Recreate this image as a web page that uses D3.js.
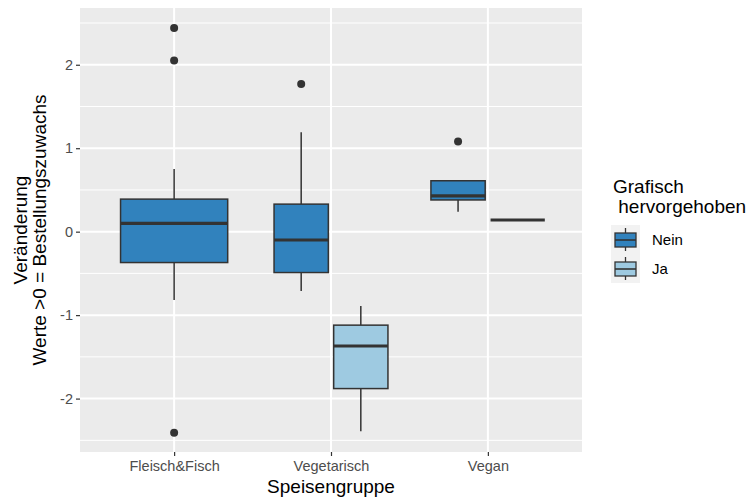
<!DOCTYPE html>
<html>
<head>
<meta charset="utf-8">
<script src="https://cdn.jsdelivr.net/npm/d3@7"></script>
<style>
  body { margin: 0; background: #fff; }
  text { font-family: "Liberation Sans", Arial, sans-serif; }
</style>
</head>
<body>
<svg id="chart" width="749" height="500"></svg>
<script>
// categories and groups
const categories = ['Fleisch&Fisch', 'Vegetarisch', 'Vegan'];
const groups = ['Nein', 'Ja'];
const groupColors = ['#3182bd', '#9ecae1'];

// box stats, one entry per box
const boxCat = ['Fleisch&Fisch', 'Vegetarisch', 'Vegetarisch', 'Vegan', 'Vegan'];
const boxGroup = ['Nein', 'Nein', 'Ja', 'Nein', 'Ja'];
const whiskerLow = [-0.82, -0.71, -2.39, 0.24, 0.14];
const q1 = [-0.37, -0.49, -1.88, 0.38, 0.14];
const median = [0.10, -0.10, -1.37, 0.43, 0.14];
const q3 = [0.39, 0.33, -1.12, 0.61, 0.14];
const whiskerHigh = [0.75, 1.19, -0.89, 0.61, 0.14];

// outliers
const outCat = ['Fleisch&Fisch', 'Fleisch&Fisch', 'Fleisch&Fisch', 'Vegetarisch', 'Vegan'];
const outGroup = ['Nein', 'Nein', 'Nein', 'Nein', 'Nein'];
const outValue = [2.44, 2.05, -2.41, 1.77, 1.08];

const yTicks = [-2, -1, 0, 1, 2];
const yMinor = [-2.5, -1.5, -0.5, 0.5, 1.5, 2.5];

const panel = { left: 80, right: 582, top: 8, bottom: 452 };
const svg = d3.select('#chart');
const font = '"Liberation Sans", Arial, sans-serif';

const x = d3.scalePoint().domain(categories)
  .range([panel.left, panel.right]).padding(0.6);
const y = d3.scaleLinear().domain([-2.64, 2.68])
  .range([panel.bottom, panel.top]);

const step = x.step();
const fullWidth = step * 0.683;
// dodge inside a category
const dodge = d3.scaleBand().domain(groups)
  .range([-step * 0.363, step * 0.363]).paddingInner(0.09);

const color = d3.scaleOrdinal().domain(groups).range(groupColors);

// how many groups per category -> single box is full width
const nPerCat = d3.rollup(boxCat, v => v.length, d => d);

const boxes = boxCat.map((c, i) => ({
  cat: c, group: boxGroup[i], lo: whiskerLow[i], q1: q1[i],
  med: median[i], q3: q3[i], hi: whiskerHigh[i]
}));

function boxPos(cat, group) {
  if (nPerCat.get(cat) === 1) {
    return { x0: x(cat) - fullWidth / 2, w: fullWidth };
  }
  return { x0: x(cat) + dodge(group), w: dodge.bandwidth() };
}

// panel
svg.append('rect')
  .attr('x', panel.left).attr('y', panel.top)
  .attr('width', panel.right - panel.left)
  .attr('height', panel.bottom - panel.top)
  .attr('fill', '#ebebeb');

const grid = svg.append('g');
grid.selectAll('.minor').data(yMinor).join('line')
  .attr('x1', panel.left).attr('x2', panel.right)
  .attr('y1', d => y(d)).attr('y2', d => y(d))
  .attr('stroke', '#fff').attr('stroke-width', 1);
grid.selectAll('.major').data(yTicks).join('line')
  .attr('x1', panel.left).attr('x2', panel.right)
  .attr('y1', d => y(d)).attr('y2', d => y(d))
  .attr('stroke', '#fff').attr('stroke-width', 2);
grid.selectAll('.vmajor').data(categories).join('line')
  .attr('x1', d => x(d)).attr('x2', d => x(d))
  .attr('y1', panel.top).attr('y2', panel.bottom)
  .attr('stroke', '#fff').attr('stroke-width', 2);

// boxes
const outline = '#333333';
const bg = svg.append('g');
boxes.forEach(b => {
  const p = boxPos(b.cat, b.group);
  const cx = p.x0 + p.w / 2;
  bg.append('line')
    .attr('x1', cx).attr('x2', cx)
    .attr('y1', y(b.hi)).attr('y2', y(b.q3))
    .attr('stroke', outline).attr('stroke-width', 1.5);
  bg.append('line')
    .attr('x1', cx).attr('x2', cx)
    .attr('y1', y(b.q1)).attr('y2', y(b.lo))
    .attr('stroke', outline).attr('stroke-width', 1.5);
  bg.append('rect')
    .attr('x', p.x0).attr('y', y(b.q3))
    .attr('width', p.w).attr('height', Math.max(0, y(b.q1) - y(b.q3)))
    .attr('fill', color(b.group))
    .attr('stroke', outline).attr('stroke-width', 1.5);
  bg.append('line')
    .attr('x1', p.x0).attr('x2', p.x0 + p.w)
    .attr('y1', y(b.med)).attr('y2', y(b.med))
    .attr('stroke', outline).attr('stroke-width', 3.2);
});

// outliers
const outliers = outCat.map((c, i) => ({ cat: c, group: outGroup[i], v: outValue[i] }));
bg.selectAll('circle').data(outliers).join('circle')
  .attr('cx', d => { const p = boxPos(d.cat, d.group); return p.x0 + p.w / 2; })
  .attr('cy', d => y(d.v))
  .attr('r', 4)
  .attr('fill', '#333333');

// axes
const yAxis = svg.append('g')
  .attr('transform', `translate(${panel.left},0)`)
  .call(d3.axisLeft(y).tickValues(yTicks).tickSize(4).tickPadding(3)
    .tickFormat(d => String(d)));
yAxis.select('.domain').remove();
yAxis.selectAll('line').attr('stroke', '#333').attr('stroke-width', 1.2);
yAxis.selectAll('text').attr('fill', '#4d4d4d').attr('font-size', 14.5)
  .style('font-family', font);

const xAxis = svg.append('g')
  .attr('transform', `translate(0,${panel.bottom})`)
  .call(d3.axisBottom(x).tickSize(4).tickPadding(5));
xAxis.select('.domain').remove();
xAxis.selectAll('line').attr('stroke', '#333').attr('stroke-width', 1.2);
xAxis.selectAll('text').attr('fill', '#4d4d4d').attr('font-size', 14.5)
  .style('font-family', font);

// titles
svg.append('text')
  .attr('x', (panel.left + panel.right) / 2).attr('y', 493)
  .attr('text-anchor', 'middle').attr('font-size', 19).attr('fill', '#000')
  .text('Speisengruppe');

const yt = svg.append('text')
  .attr('transform', `translate(0,${(panel.top + panel.bottom) / 2}) rotate(-90)`)
  .attr('text-anchor', 'middle').attr('font-size', 19).attr('fill', '#000');
yt.append('tspan').attr('x', 0).attr('y', 27).text('Veränderung');
yt.append('tspan').attr('x', 0).attr('y', 46).text('Werte >0 = Bestellungszuwachs');

// legend
const lg = svg.append('g').attr('transform', 'translate(611,0)');
lg.append('text').attr('x', 2).attr('y', 193).attr('font-size', 19).text('Grafisch');
lg.append('text').attr('x', 2).attr('y', 213).attr('font-size', 19).text(' hervorgehoben')
  .attr('xml:space', 'preserve').style('white-space', 'pre');

const keyH = 29;
groups.forEach((g, i) => {
  const k = lg.append('g').attr('transform', `translate(0,${225 + i * keyH})`);
  k.append('rect').attr('width', 29).attr('height', keyH).attr('fill', '#f2f2f2');
  k.append('line').attr('x1', 14.5).attr('x2', 14.5).attr('y1', 3).attr('y2', 26)
    .attr('stroke', outline).attr('stroke-width', 1.3);
  k.append('rect').attr('x', 4).attr('y', 8).attr('width', 21).attr('height', 14)
    .attr('fill', color(g)).attr('stroke', outline).attr('stroke-width', 1.3);
  k.append('line').attr('x1', 4).attr('x2', 25).attr('y1', 15).attr('y2', 15)
    .attr('stroke', outline).attr('stroke-width', 1.6);
  k.append('text').attr('x', 41).attr('y', keyH / 2 + 5.5)
    .attr('font-size', 15).attr('fill', '#000').text(g);
});
</script>
</body>
</html>
